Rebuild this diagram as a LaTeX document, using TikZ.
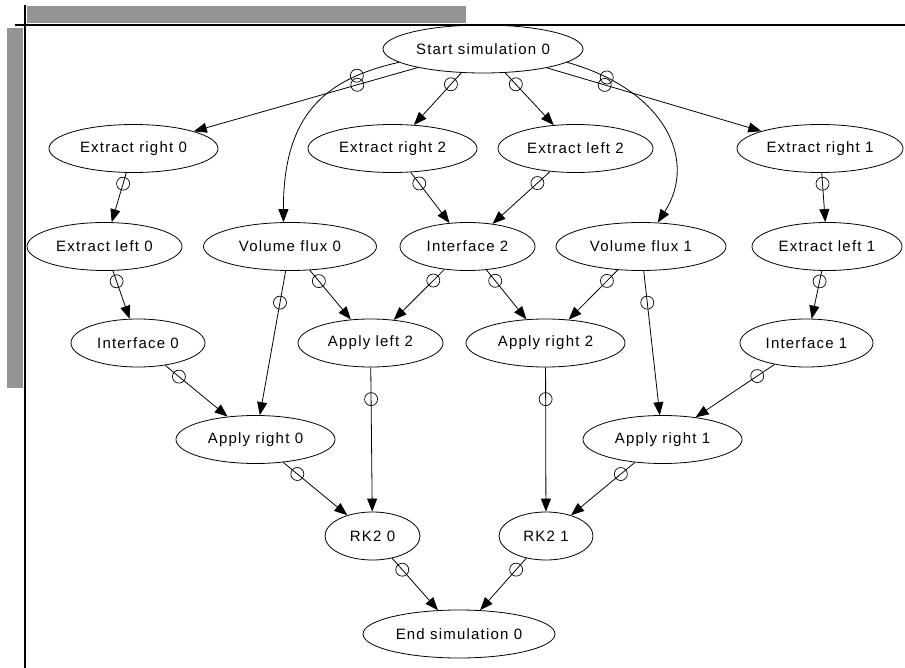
\documentclass[tikz,border=0pt]{standalone}
\usepackage{fontspec}
\setmainfont{Liberation Sans}[LetterSpace=8.0]
\usetikzlibrary{arrows.meta,shapes.geometric}

\begin{document}
\begin{tikzpicture}[
  x=1pt, y=-1pt,
  task/.style={draw, ellipse, minimum height=48pt, inner sep=0pt,
               line width=0.8pt, font=\fontsize{15}{18}\selectfont},
  dep/.style={-{Triangle[length=13pt,width=10pt]}, line width=0.8pt},
  ring/.style={draw, circle, inner sep=0pt, minimum size=13pt, pos=0.22, line width=0.7pt},
  bar/.style={fill=black!42, draw=none}
]
  \useasboundingbox (0,0) rectangle (905,668);

  % window frame
  \fill[bar] (27,6) rectangle (466,23);
  \fill[bar] (7,28) rectangle (23,388);
  \draw[line width=1.3pt] (15,25) -- (905,25);
  \draw[line width=1.3pt] (25,5) -- (25,668);

  % tasks
  \node[task, minimum width=200pt] (start) at (483,49)    {Start simulation 0};
  \node[task, minimum width=169pt] (er0)   at (133.5,148.5) {Extract right 0};
  \node[task, minimum width=169pt] (er2)   at (392.5,148.5) {Extract right 2};
  \node[task, minimum width=155pt] (el2)   at (575.5,148.5) {Extract left 2};
  \node[task, minimum width=166pt] (er1)   at (820,148.5)   {Extract right 1};
  \node[task, minimum width=155pt] (el0)   at (104.5,246.5) {Extract left 0};
  \node[task, minimum width=173pt] (vf0)   at (290,246.5)   {Volume flux 0};
  \node[task, minimum width=135pt] (if2)   at (467.5,246.5) {Interface 2};
  \node[task, minimum width=170pt] (vf1)   at (641,246.5)   {Volume flux 1};
  \node[task, minimum width=150pt] (el1)   at (827,246.5)   {Extract left 1};
  \node[task, minimum width=134pt] (if0)   at (138,343)     {Interface 0};
  \node[task, minimum width=145pt] (al2)   at (370.5,343)   {Apply left 2};
  \node[task, minimum width=159pt] (ar2)   at (545.5,343)   {Apply right 2};
  \node[task, minimum width=133pt] (if1)   at (806.5,343)   {Interface 1};
  \node[task, minimum width=159pt] (ar0)   at (255.5,439.5) {Apply right 0};
  \node[task, minimum width=159pt] (ar1)   at (662.5,439.5) {Apply right 1};
  \node[task, minimum width=95pt]  (rk0)   at (372.5,536)   {RK2 0};
  \node[task, minimum width=94pt]  (rk1)   at (546,536)     {RK2 1};
  \node[task, minimum width=192pt] (end)   at (459,634)     {End simulation 0};

  % dependencies
  \draw[dep] (start) -- node[ring, pos=0.27]{} (er0);
  \draw[dep] (start.189) .. controls (330,78) and (283,110) .. node[ring]{} (vf0.105);
  \draw[dep] (start) -- node[ring]{} (er2);
  \draw[dep] (start) -- node[ring]{} (el2);
  \draw[dep] (start.351) .. controls (665,90) and (698,160) .. node[ring, pos=0.15]{} (vf1.55);
  \draw[dep] (start) -- node[ring, pos=0.27]{} (er1);

  \draw[dep] (er0) -- node[ring]{} (el0);
  \draw[dep] (el0) -- node[ring]{} (if0);
  \draw[dep] (er2) -- node[ring]{} (if2);
  \draw[dep] (el2) -- node[ring]{} (if2);
  \draw[dep] (er1) -- node[ring]{} (el1);
  \draw[dep] (el1) -- node[ring]{} (if1);

  \draw[dep] (vf0) -- node[ring]{} (al2);
  \draw[dep] (vf0) -- node[ring]{} (ar0);
  \draw[dep] (if2) -- node[ring]{} (al2);
  \draw[dep] (if2) -- node[ring]{} (ar2);
  \draw[dep] (vf1) -- node[ring]{} (ar2);
  \draw[dep] (vf1) -- node[ring]{} (ar1);
  \draw[dep] (if0) -- node[ring]{} (ar0);
  \draw[dep] (if1) -- node[ring]{} (ar1);

  \draw[dep] (al2) -- node[ring]{} (rk0);
  \draw[dep] (ar0) -- node[ring]{} (rk0);
  \draw[dep] (ar2) -- node[ring]{} (rk1);
  \draw[dep] (ar1) -- node[ring]{} (rk1);
  \draw[dep] (rk0) -- node[ring]{} (end);
  \draw[dep] (rk1) -- node[ring]{} (end);
\end{tikzpicture}
\end{document}
